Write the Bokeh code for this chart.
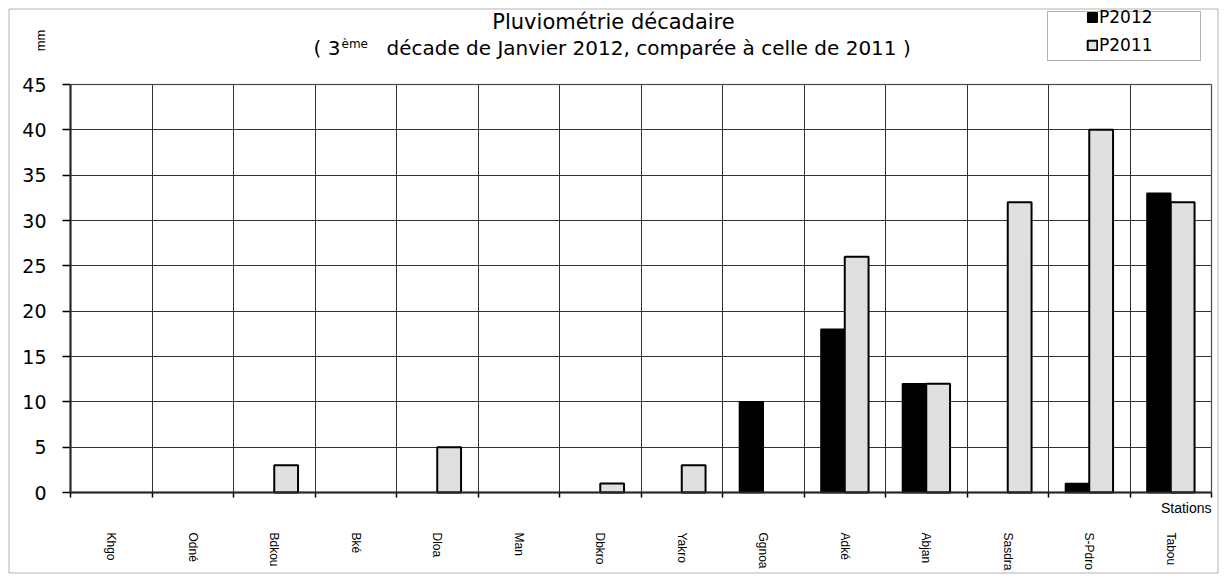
from math import pi
from bokeh.plotting import figure
from bokeh.models import (Range1d, FixedTicker, Label, Legend, LinearAxis,
                          BoxAnnotation, ColumnDataSource, Grid, CDSView,
                          BooleanFilter)
from bokeh.embed import file_html
from bokeh.resources import INLINE

# ---------------- data ----------------
stations = ["Khgo", "Odné", "Bdkou", "Bké", "Dloa", "Man", "Dbkro", "Yakro",
            "Ggnoa", "Adké", "Abjan", "Sasdra", "S-Pdro", "Tabou"]
p2012 = [0, 0, 0, 0, 0, 0, 0, 0, 10, 18, 12, 0, 1, 33]
p2011 = [0, 0, 3, 0, 5, 0, 1, 3, 0, 26, 12, 32, 40, 32]
y_ticks = [0, 5, 10, 15, 20, 25, 30, 35, 40, 45]
title1 = "Pluviométrie décadaire"
title2a = "( 3"
title2sup = "ème"
title2b = "décade  de Janvier  2012, comparée à celle de 2011 )"
series_names = ["P2012", "P2011"]

N = len(stations)
YMAX = 45

# ---------------- layout (canvas pixels) ----------------
W, H = 1222, 578
FL, FR, FT, FB = 70, 1211, 84, 492   # plot-area edges in canvas px


def xd(px):
    return (px - FL) / (FR - FL) * N


def yd(py):
    return (FB - py) / (FB - FT) * YMAX


p = figure(width=W, height=H, output_backend="svg", toolbar_location=None,
           x_range=Range1d(xd(0), xd(W)), y_range=Range1d(yd(H), yd(0)),
           x_axis_location=None, y_axis_location=None,
           min_border=0)
p.background_fill_color = "white"
p.border_fill_color = "white"
p.outline_line_color = None
p.grid.visible = False

centers = [i + 0.5 for i in range(N)]
bounds_ticks = list(range(N + 1))

# grids limited to the plot area
p.add_layout(Grid(dimension=0, ticker=FixedTicker(ticks=bounds_ticks),
                  bounds=(0, N), cross_bounds=(0, YMAX),
                  grid_line_color="#333333", grid_line_width=1))
p.add_layout(Grid(dimension=1, ticker=FixedTicker(ticks=y_ticks),
                  bounds=(0, YMAX), cross_bounds=(0, N),
                  grid_line_color="#333333", grid_line_width=1))

# plot-area border (grey top / right)
p.add_layout(BoxAnnotation(left=0, right=N, bottom=0, top=YMAX,
                           fill_alpha=0, line_color="#808080", line_width=2))

bw = 0.292
src = ColumnDataSource(dict(
    x12=[c - bw / 2 for c in centers],
    x11=[c + bw / 2 for c in centers],
    p2012=p2012, p2011=p2011))

# zero values are not drawn (as in the original chart)
view12 = CDSView(filter=BooleanFilter([v > 0 for v in p2012]))
view11 = CDSView(filter=BooleanFilter([v > 0 for v in p2011]))

r12 = p.vbar(x="x12", top="p2012", width=bw, bottom=0, source=src, view=view12,
             fill_color="black", line_color="black", line_width=1.5)
r11 = p.vbar(x="x11", top="p2011", width=bw, bottom=0, source=src, view=view11,
             fill_color="#e0e0e0", line_color="black", line_width=2)

# x axis (category boundaries)
xa = LinearAxis(fixed_location=0, bounds=(0, N),
                ticker=FixedTicker(ticks=bounds_ticks),
                major_label_overrides={i: "" for i in bounds_ticks})
xa.major_label_text_font_size = "1px"
xa.major_label_standoff = 0
xa.axis_line_color = "black"
xa.axis_line_width = 2
xa.major_tick_line_color = "black"
xa.major_tick_line_width = 1.5
xa.major_tick_out = 5
xa.major_tick_in = 0
xa.minor_tick_line_color = None
p.add_layout(xa, "below")

# x axis (station names)
xa2 = LinearAxis(fixed_location=0, ticker=FixedTicker(ticks=centers),
                 major_label_overrides={c: s for c, s in zip(centers, stations)})
xa2.axis_line_color = None
xa2.major_tick_line_color = None
xa2.major_tick_out = 0
xa2.major_tick_in = 0
xa2.minor_tick_line_color = None
xa2.major_label_orientation = "vertical"
xa2.major_label_text_font = "Liberation Sans"
xa2.major_label_text_font_size = "12px"
xa2.major_label_text_color = "black"
xa2.major_label_standoff = 40
p.add_layout(xa2, "below")

# y axis
ya = LinearAxis(fixed_location=0, bounds=(0, YMAX),
                ticker=FixedTicker(ticks=y_ticks))
ya.axis_line_color = "black"
ya.axis_line_width = 2
ya.major_tick_line_color = "black"
ya.major_tick_line_width = 1.5
ya.major_tick_out = 8
ya.major_tick_in = 0
ya.minor_tick_line_color = None
ya.major_label_standoff = 16
ya.major_label_text_font = "DejaVu Sans"
ya.major_label_text_font_size = "19px"
ya.major_label_text_color = "black"
p.add_layout(ya, "left")

# texts
common = dict(text_baseline="middle", text_color="black")
CX = 613
p.add_layout(Label(x=xd(CX), y=yd(21), text=title1, text_align="center",
                   text_font="DejaVu Sans", text_font_size="21px", **common))
p.add_layout(Label(x=xd(340), y=yd(47), text=title2a, text_align="right",
                   text_font="DejaVu Sans", text_font_size="20px", **common))
p.add_layout(Label(x=xd(341), y=yd(43), text=title2sup, text_align="left",
                   text_font="DejaVu Sans", text_font_size="12px", **common))
p.add_layout(Label(x=xd(386), y=yd(47), text=title2b, text_align="left",
                   text_font="DejaVu Sans", text_font_size="20px", **common))
p.add_layout(Label(x=xd(40), y=yd(40), text="mm", angle=pi / 2,
                   text_align="center", text_font="Liberation Sans",
                   text_font_size="13px", **common))
p.add_layout(Label(x=xd(1211), y=yd(507), text="Stations", text_align="right",
                   text_font="Liberation Sans", text_font_size="14px", **common))

# legend
leg = Legend(items=[(series_names[0], [r12]), (series_names[1], [r11])],
             location=(1086, H - 55), orientation="vertical",
             padding=0, margin=0, spacing=8, glyph_width=12, glyph_height=12,
             label_height=17, label_standoff=1,
             label_text_font="DejaVu Sans", label_text_font_size="17px",
             label_text_color="black",
             border_line_color=None, background_fill_alpha=0)
p.add_layout(leg, "center")

p.add_layout(BoxAnnotation(left=xd(1047), right=xd(1200), top=yd(11), bottom=yd(60),
                           fill_alpha=0, line_color="black", line_width=1))
# outer border
p.add_layout(BoxAnnotation(left=xd(8.5), right=xd(1217.5), top=yd(8.5), bottom=yd(572.5),
                           fill_alpha=0, line_color="black", line_width=1))

open("out.html", "w").write(file_html(p, INLINE))
